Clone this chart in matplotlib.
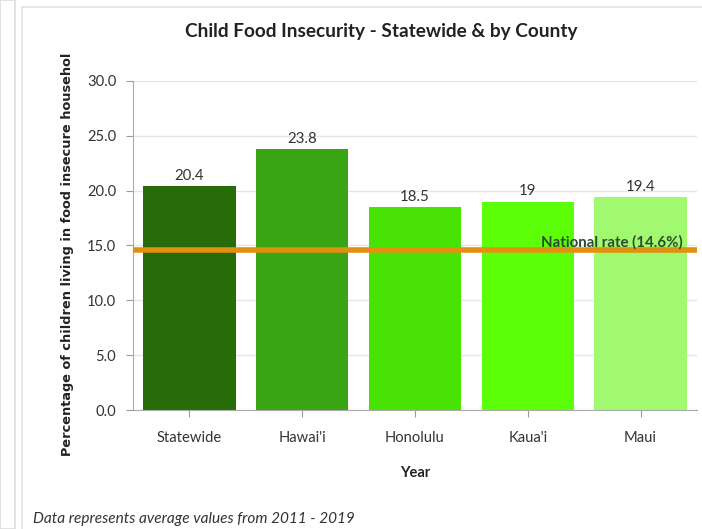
import matplotlib.pyplot as plt
from matplotlib.patches import Rectangle
from matplotlib.font_manager import FontProperties

""" DATA """

counties = ["Statewide", "Hawai'i", "Honolulu", "Kaua'i", "Maui"]
rates = [20.4, 23.8, 18.5, 19.0, 19.4]
rate_labels = ["20.4", "23.8", "18.5", "19", "19.4"]
bar_colors = ["#276c08", "#39a514", "#48e305", "#5dff08", "#a0f96f"]
national_rate = 14.6
y_ticks = [0, 5, 10, 15, 20, 25, 30]

""" PLOT """

plt.rcParams["font.family"] = ["Lato", "DejaVu Sans"]

fig = plt.figure(figsize=(7.02, 5.29), dpi=100)
fig.patch.set_facecolor("white")

# page frame around the chart card
fig.patches.append(Rectangle((0, 0), 15 / 702, 1, transform=fig.transFigure,
                             facecolor="white", edgecolor="#dddddd", lw=1.2, zorder=-5))
fig.patches.append(Rectangle((22 / 702, -0.01), 1, 1 - 7 / 529 + 0.01,
                             transform=fig.transFigure, facecolor="white",
                             edgecolor="#e3e3e3", lw=1.2, zorder=-5))

ax = fig.add_axes([133 / 702, (529 - 410) / 529, 564 / 702, 329 / 529])
ax.set_facecolor("none")
x = range(len(counties))
ax.bar(x, rates, width=0.82, color=bar_colors, zorder=2)
for i in x:
    ax.text(i, rates[i] + 0.3, rate_labels[i], ha="center", va="bottom",
            fontsize=10.8, color="#333333")

ax.axhline(national_rate, color="#e3900e", lw=4, zorder=3)
ax.text(4.376, national_rate + 0.05, "National rate (14.6%)", ha="right",
        va="bottom", fontsize=10.8, fontweight="bold", color="#2f4a2f", zorder=4)

ax.set_xlim(-0.5, 4.5)
ax.set_ylim(0, 30)
ax.set_yticks(y_ticks)
ax.set_yticklabels([f"{v:.1f}" for v in y_ticks])
ax.set_xticks(list(x))
ax.set_xticklabels(counties)
ax.tick_params(axis="both", labelsize=10.6, colors="#999999", labelcolor="#333333",
               length=5, width=0.8)
ax.tick_params(axis="x", pad=10)
ax.tick_params(axis="y", pad=7)
ax.grid(axis="y", color="#e6e6e6", lw=1, zorder=0)
for s in ["top", "right"]:
    ax.spines[s].set_visible(False)
ax.spines["left"].set_color("#aaaaaa")
ax.spines["bottom"].set_color("#aaaaaa")

ax.set_xlabel("Year", fontsize=10.5, fontweight="bold", color="#222222", labelpad=15)
ylab_font = FontProperties(family="DejaVu Sans", weight="bold", size=9.3)
fig.text(68 / 702, 1 - 254 / 529, "Percentage of children living in food insecure househol",
         rotation=90, ha="center", va="center", fontproperties=ylab_font,
         color="#222222")

fig.text(381 / 702, 1 - 31 / 529, "Child Food Insecurity - Statewide & by County",
         ha="center", va="center", fontsize=13.7, fontweight="bold", color="#222222")
fig.text(33 / 702, 1 - 519 / 529, "Data represents average values from 2011 - 2019",
         ha="left", va="center", fontsize=11.1, style="italic", color="#333333")

plt.savefig("out.png", dpi=100)
